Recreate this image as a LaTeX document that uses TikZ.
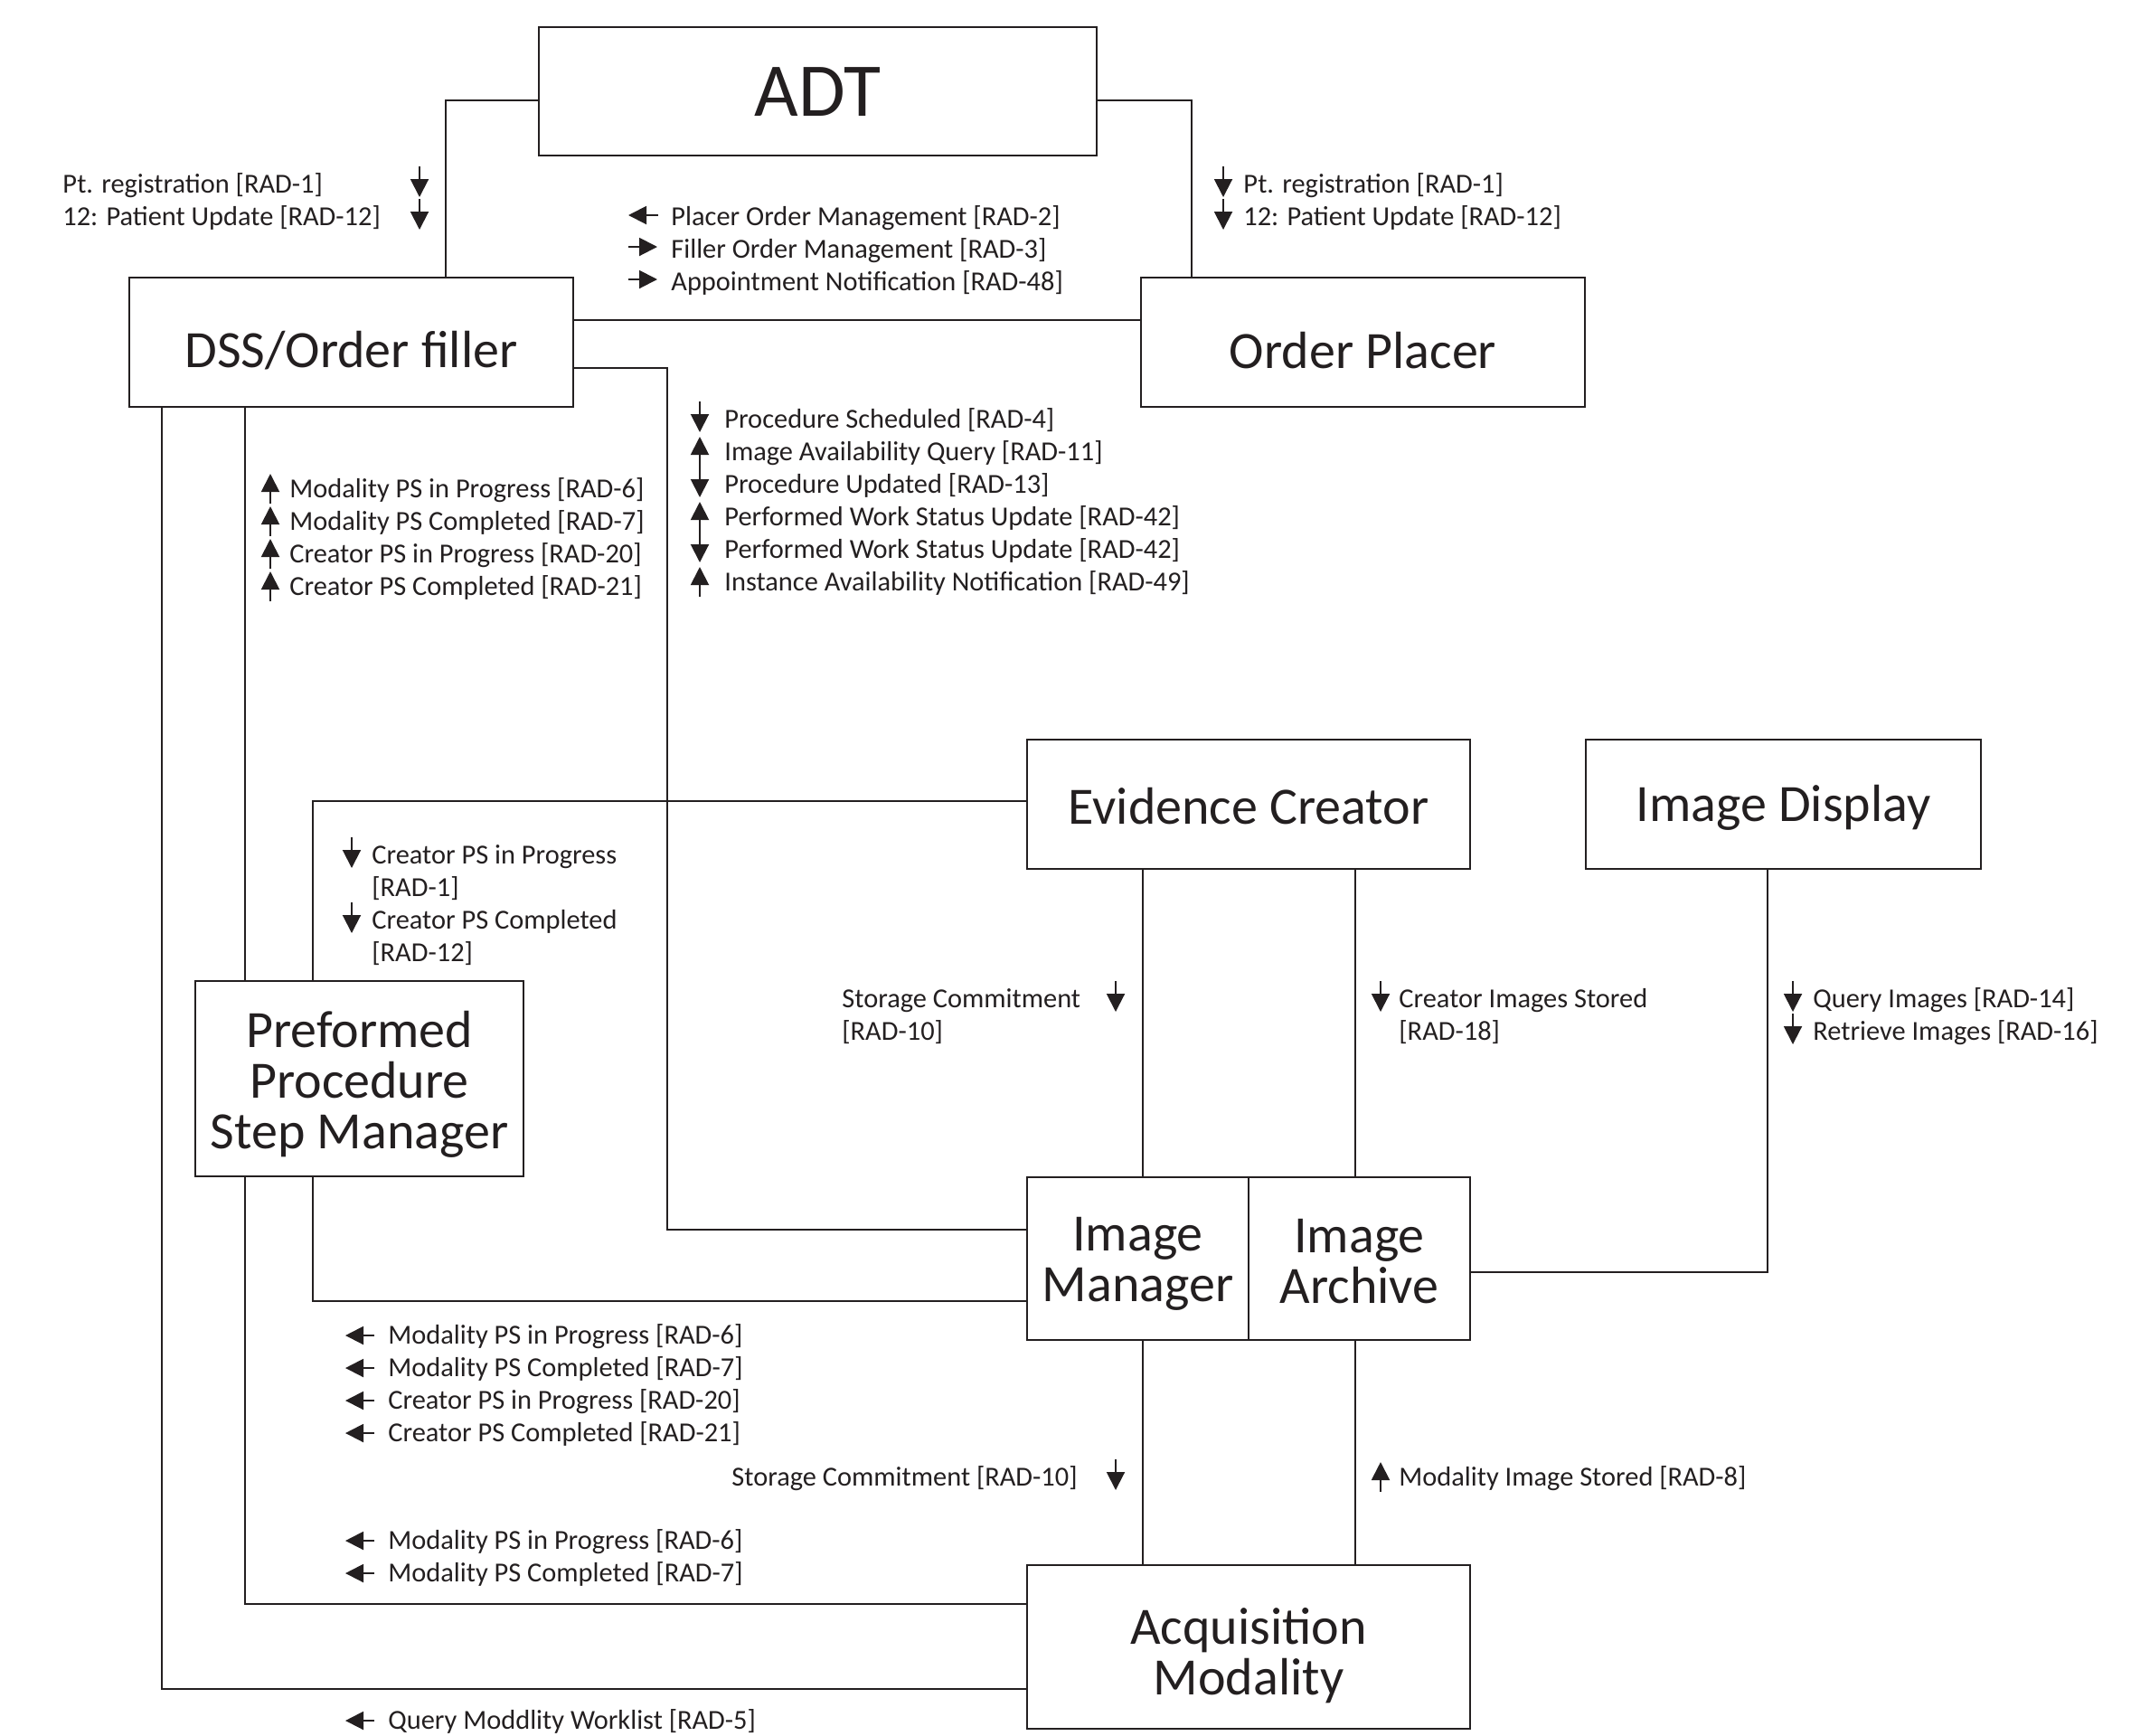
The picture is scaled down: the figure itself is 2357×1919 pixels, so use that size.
\documentclass[tikz,border=0pt]{standalone}
\usepackage{fontspec}
\setmainfont{Carlito}
\usetikzlibrary{arrows.meta}
\definecolor{ink}{HTML}{231F20}
\newcommand\ArrDown[2]{\draw[marr] (#1,#2-29) -- (#1,#2+5);}
\newcommand\ArrUp[2]{\draw[marr] (#1,#2+7) -- (#1,#2-26);}
\newcommand\ArrLeft[3]{\draw[marr] (#2,#3) -- (#1,#3);}
\newcommand\ArrRight[3]{\draw[marr] (#1,#3) -- (#2,#3);}
\begin{document}
\begin{tikzpicture}[x=0.5pt,y=-0.5pt,
  box/.style={draw=ink, line width=1.3pt, rectangle, inner sep=0pt},
  title/.style={inner sep=0pt, align=center, font=\fontsize{29}{28}\selectfont, text=ink},
  conn/.style={draw=ink, line width=1pt},
  lbl/.style={inner sep=0pt, anchor=base west, font=\fontsize{15.2}{18}\selectfont, text=ink},
  lble/.style={lbl, anchor=base east},
  marr/.style={draw=ink, line width=1pt, -{Triangle[length=10pt,width=10pt]}}]
\useasboundingbox (0,0) rectangle (2357,1919);

% boxes
\node[box, minimum width=308.5pt, minimum height=71pt] (adt) at (904.5,101) {};
\node[box, minimum width=245.5pt, minimum height=71.5pt] (dss) at (388.5,378.5) {};
\node[box, minimum width=245.5pt, minimum height=71.5pt] (op) at (1507.5,378.5) {};
\node[box, minimum width=245pt, minimum height=71.5pt] (ec) at (1381,889.5) {};
\node[box, minimum width=218.5pt, minimum height=71.5pt] (id) at (1972.5,889.5) {};
\node[box, minimum width=181.5pt, minimum height=108pt] (ppsm) at (397.5,1193) {};
\node[box, minimum width=122.5pt, minimum height=90pt] (im) at (1258.5,1392) {};
\node[box, minimum width=122.5pt, minimum height=90pt] (ia) at (1503.5,1392) {};
\node[box, minimum width=245pt, minimum height=90.5pt] (am) at (1381,1821.5) {};

% box titles
\node[title, font=\fontsize{42}{42}\selectfont] (adtt) at ([yshift=-0.5pt]adt.center) {ADT};
\node[title] (dsst) at ([yshift=-4.5pt]dss.center) {DSS/Order filler};
\node[title] (opt) at ([yshift=-4.5pt]op.center) {Order Placer};
\node[title] (ect) at ([yshift=-1pt]ec.center) {Evidence Creator};
\node[title] (idt) at ([yshift=-2pt]id.center) {Image Display};
\node[title] (ppsmt) at ([yshift=-3pt]ppsm.center) {Preformed\\Procedure\\Step Manager};
\node[title] (imt) at ([yshift=-3pt]im.center) {Image\\Manager};
\node[title] (iat) at ([yshift=-1.5pt]ia.center) {Image\\Archive};
\node[title] (amt) at ([yshift=-5pt]am.center) {Acquisition\\Modality};

% connectors
\draw[conn] (adt.west |- 0,111) -| (dss.north -| 493,0);
\draw[conn] (adt.east |- 0,111) -| (op.north -| 1318,0);
\draw[conn] (dss.east |- 0,354) -- (op.west |- 0,354);
\draw[conn] (dss.east |- 0,407) -| (738,1360) -- (im.west |- 0,1360);
\draw[conn] (dss.south -| 179,0) |- (am.west |- 0,1868);
\draw[conn] (dss.south -| 271,0) -- (ppsm.north -| 271,0);
\draw[conn] (ppsm.north -| 346,0) |- (ec.west |- 0,886);
\draw[conn] (ppsm.south -| 271,0) |- (am.west |- 0,1774);
\draw[conn] (ppsm.south -| 346,0) |- (im.west |- 0,1439);
\draw[conn] (ec.south -| 1264,0) -- (im.north -| 1264,0);
\draw[conn] (ec.south -| 1499,0) -- (ia.north -| 1499,0);
\draw[conn] (im.south -| 1264,0) -- (am.north -| 1264,0);
\draw[conn] (ia.south -| 1499,0) -- (am.north -| 1499,0);
\draw[conn] (id.south -| 1955,0) |- (ia.east |- 0,1407);

% top left labels
\node[lbl] (tl1) at (69,213) {Pt. registration [RAD-1]};
\node[lbl] (tl2) at (69,249) {12: Patient Update [RAD-12]};
\ArrDown{464}{213}\ArrDown{464}{249}
% top right labels
\node[lbl] (tr1) at (1375,213) {Pt. registration [RAD-1]};
\node[lbl] (tr2) at (1375,249) {12: Patient Update [RAD-12]};
\ArrDown{1353}{213}\ArrDown{1353}{249}
% middle top
\node[lbl] (mt1) at (742,249) {Placer Order Management [RAD-2]};
\node[lbl] (mt2) at (742,285) {Filler Order Management [RAD-3]};
\node[lbl] (mt3) at (742,321) {Appointment Notification [RAD-48]};
\ArrLeft{695}{728}{238}
\ArrRight{695}{727}{273}
\ArrRight{695}{727}{309}
% dss right column
\node[lbl] (dr1) at (801,473) {Procedure Scheduled [RAD-4]};
\node[lbl] (dr2) at (801,509) {Image Availability Query [RAD-11]};
\node[lbl] (dr3) at (801,545) {Procedure Updated [RAD-13]};
\node[lbl] (dr4) at (801,581) {Performed Work Status Update [RAD-42]};
\node[lbl] (dr5) at (801,617) {Performed Work Status Update [RAD-42]};
\node[lbl] (dr6) at (801,653) {Instance Availability Notification [RAD-49]};
\ArrDown{774}{473}\ArrUp{774}{509}\ArrDown{774}{545}
\ArrUp{774}{581}\ArrDown{774}{617}\ArrUp{774}{653}
% dss left column
\node[lbl] (dl1) at (320,550) {Modality PS in Progress [RAD-6]};
\node[lbl] (dl2) at (320,586) {Modality PS Completed [RAD-7]};
\node[lbl] (dl3) at (320,622) {Creator PS in Progress [RAD-20]};
\node[lbl] (dl4) at (320,658) {Creator PS Completed [RAD-21]};
\ArrUp{299}{550}\ArrUp{299}{586}\ArrUp{299}{622}\ArrUp{299}{658}
% ppsm - evidence creator
\node[lbl] (pe1) at (411,955) {Creator PS in Progress};
\node[lbl] (pe2) at (411,991) {[RAD-1]};
\node[lbl] (pe3) at (411,1027) {Creator PS Completed};
\node[lbl] (pe4) at (411,1063) {[RAD-12]};
\ArrDown{389}{955}\ArrDown{389}{1027}
% evidence creator - image manager / archive
\node[lbl] (sc1) at (931,1114) {Storage Commitment};
\node[lbl] (sc2) at (931,1150) {[RAD-10]};
\ArrDown{1234}{1114}
\node[lbl] (ci1) at (1547,1114) {Creator Images Stored};
\node[lbl] (ci2) at (1547,1150) {[RAD-18]};
\ArrDown{1527}{1114}
\node[lbl] (qi1) at (2005,1114) {Query Images [RAD-14]};
\node[lbl] (qi2) at (2005,1150) {Retrieve Images [RAD-16]};
\ArrDown{1983}{1114}\ArrDown{1983}{1150}
% lower left group
\node[lbl] (ll1) at (429,1486) {Modality PS in Progress [RAD-6]};
\node[lbl] (ll2) at (429,1522) {Modality PS Completed [RAD-7]};
\node[lbl] (ll3) at (429,1558) {Creator PS in Progress [RAD-20]};
\node[lbl] (ll4) at (429,1594) {Creator PS Completed [RAD-21]};
\ArrLeft{382}{414}{1477}\ArrLeft{382}{414}{1513}\ArrLeft{382}{414}{1549}\ArrLeft{382}{414}{1585}
% image manager/archive - acquisition modality
\node[lble] (sc3) at (1192,1643) {Storage Commitment [RAD-10]};
\ArrDown{1234}{1643}
\node[lbl] (ms1) at (1547,1643) {Modality Image Stored [RAD-8]};
\ArrUp{1527}{1643}
% lower group
\node[lbl] (lm1) at (429,1713) {Modality PS in Progress [RAD-6]};
\node[lbl] (lm2) at (429,1749) {Modality PS Completed [RAD-7]};
\ArrLeft{382}{414}{1704}\ArrLeft{382}{414}{1740}
\node[lbl] (qw1) at (429,1912) {Query Moddlity Worklist [RAD-5]};
\ArrLeft{382}{414}{1903}
\end{tikzpicture}
\end{document}
